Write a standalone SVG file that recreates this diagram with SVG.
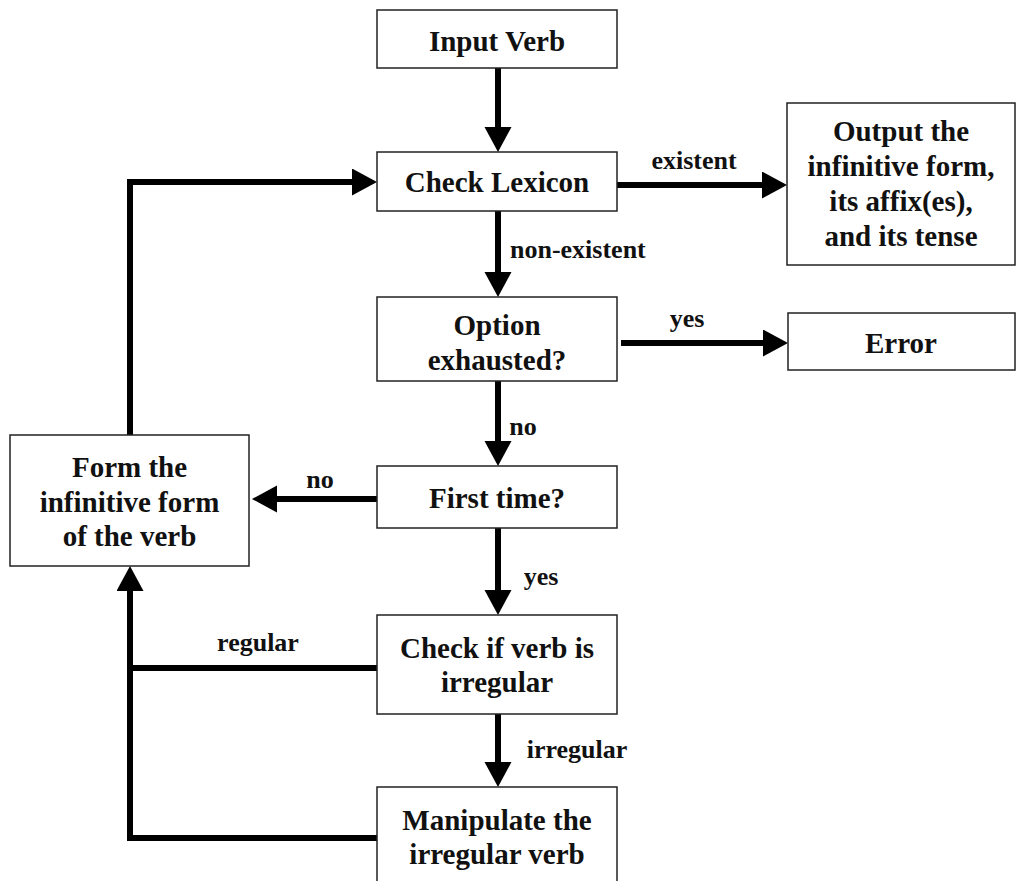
<svg xmlns="http://www.w3.org/2000/svg" width="1018" height="881" viewBox="0 0 1018 881">
<style>
.box{fill:#fff;stroke:#222;stroke-width:1.5}
.t{font-family:"Liberation Serif","Times New Roman",serif;font-weight:bold;font-size:29px;fill:#111;text-anchor:middle}
.l{font-family:"Liberation Serif","Times New Roman",serif;font-weight:bold;font-size:26px;fill:#111;text-anchor:middle}
.c{fill:none;stroke:#000;stroke-width:6}
</style>
<defs>
<marker id="ah" markerUnits="userSpaceOnUse" markerWidth="26" markerHeight="28" refX="15" refY="13.5" orient="auto" viewBox="0 0 26 28">
<path d="M0,0 L25,13.5 L0,27 z" fill="#000"/>
</marker>
</defs>
<rect width="1018" height="881" fill="#fff"/>
<g id="connectors">
<path class="c" d="M498,68 V142" marker-end="url(#ah)"/>
<path class="c" d="M617,185 H777" marker-end="url(#ah)"/>
<path class="c" d="M498,211 V287" marker-end="url(#ah)"/>
<path class="c" d="M621,343 H778" marker-end="url(#ah)"/>
<path class="c" d="M498,381 V456" marker-end="url(#ah)"/>
<path class="c" d="M377,499 H262" marker-end="url(#ah)"/>
<path class="c" d="M130,435 V182 H367" marker-end="url(#ah)"/>
<path class="c" d="M498,528 V605" marker-end="url(#ah)"/>
<path class="c" d="M498,714 V777" marker-end="url(#ah)"/>
<path class="c" d="M377,668 H130"/>
<path class="c" d="M377,838 H130 V576" marker-end="url(#ah)"/>
<text class="l" x="694" y="169">existent</text>
<text class="l" x="510" y="258" style="text-anchor:start">non-existent</text>
<text class="l" x="687" y="327">yes</text>
<text class="l" x="523" y="435">no</text>
<text class="l" x="320" y="488">no</text>
<text class="l" x="541" y="585">yes</text>
<text class="l" x="258" y="651">regular</text>
<text class="l" x="577" y="758">irregular</text>
</g>
<g id="input-verb">
<rect class="box" x="377" y="10" width="240" height="58"/>
<text class="t" x="497" y="51">Input Verb</text>
</g>
<g id="check-lexicon">
<rect class="box" x="377" y="152" width="240" height="59"/>
<text class="t" x="497" y="192">Check Lexicon</text>
</g>
<g id="output">
<rect class="box" x="787" y="103" width="228" height="162"/>
<text class="t" x="901" y="141">Output the</text>
<text class="t" x="901" y="176">infinitive form,</text>
<text class="t" x="901" y="211">its affix(es),</text>
<text class="t" x="901" y="246">and its tense</text>
</g>
<g id="option-exhausted">
<rect class="box" x="377" y="297" width="240" height="84"/>
<text class="t" x="497" y="335">Option</text>
<text class="t" x="497" y="370">exhausted?</text>
</g>
<g id="error">
<rect class="box" x="788" y="313" width="227" height="57"/>
<text class="t" x="901" y="353">Error</text>
</g>
<g id="first-time">
<rect class="box" x="377" y="466" width="240" height="62"/>
<text class="t" x="497" y="508">First time?</text>
</g>
<g id="form-infinitive">
<rect class="box" x="10" y="435" width="239" height="131"/>
<text class="t" x="129.5" y="477">Form the</text>
<text class="t" x="129.5" y="512">infinitive form</text>
<text class="t" x="129.5" y="546">of the verb</text>
</g>
<g id="check-irregular">
<rect class="box" x="377" y="615" width="240" height="99"/>
<text class="t" x="497" y="658">Check if verb is</text>
<text class="t" x="497" y="692">irregular</text>
</g>
<g id="manipulate">
<rect class="box" x="377" y="787" width="240" height="110"/>
<text class="t" x="497" y="830">Manipulate the</text>
<text class="t" x="497" y="864">irregular verb</text>
</g>
</svg>
